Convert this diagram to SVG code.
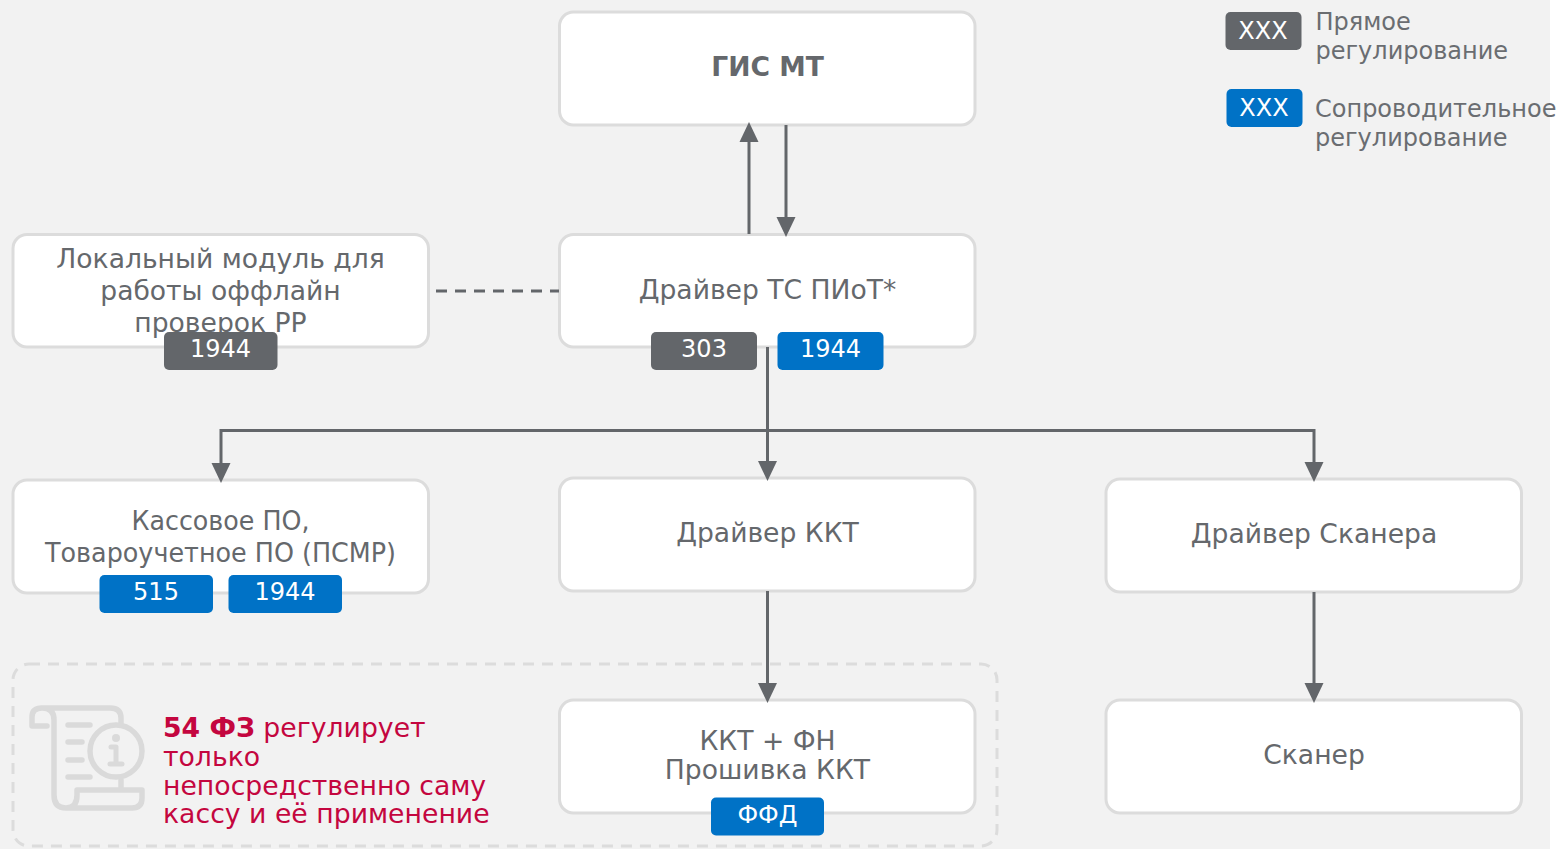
<svg xmlns="http://www.w3.org/2000/svg" width="1558" height="849" viewBox="0 0 1558 849">
<style>
text{font-family:"DejaVu Sans",sans-serif}
.n{fill:#fff;stroke:#dcdcdc;stroke-width:3}
.t{font-size:26.6px;fill:#65686c;text-anchor:middle}
.b{font-size:24px;fill:#fff;text-anchor:middle}
.g{fill:#63666a}
.u{fill:#0072c6}
.l{font-size:24px;fill:#6a6d71}
.c{fill:none;stroke:#63666a;stroke-width:3}
.r{font-size:26.7px;fill:#c4063f}
.i{fill:none;stroke:#dadada;stroke-width:5.5;stroke-linecap:round;stroke-linejoin:round}
</style>
<defs><marker id="a" markerUnits="userSpaceOnUse" markerWidth="21" markerHeight="21" refX="12" refY="10" orient="auto"><path d="M0 0.500L20 10L0 19.500Z" fill="#63666a"/></marker></defs>
<rect width="1550" height="849" fill="#f2f2f2"/>
<g id="note">
<rect x="13" y="664" width="984" height="182" rx="16" fill="none" stroke="#dcdcdc" stroke-width="3" stroke-dasharray="11 8"/>
<path class="i" d="M121 723V718Q121 708 110 708H42Q32 708 32 717V726H47M42 708Q54 708 54 720V795Q54 808 66 808Q77 808 77 795V790H142V798Q142 808 132 808H66M121 780V790"/>
<path class="i" d="M68 725H90M68 742H82M68 760H82M68 777H90"/>
<circle class="i" cx="116" cy="751" r="26"/>
<circle cx="116" cy="738" r="4" fill="#dadada"/>
<path class="i" style="stroke-width:5" d="M111 747H116V764M110 764H122"/>
<text class="r" x="163" y="737"><tspan font-weight="700">54 ФЗ</tspan> регулирует</text>
<text class="r" x="163" y="766">только</text>
<text class="r" x="163" y="795">непосредственно саму</text>
<text class="r" x="163" y="823">кассу и её применение</text>
</g>
<g id="gis"><rect class="n" x="559.500" y="12" width="415.500" height="113" rx="14"/><text class="t" x="767.500" y="76" font-weight="700">ГИС МТ</text></g>
<g id="driver-ts"><rect class="n" x="559.500" y="234.500" width="415.500" height="112.500" rx="14"/><text class="t" x="767.500" y="299">Драйвер ТС ПИоТ*</text>
<rect class="g" x="651" y="332" width="106" height="38" rx="5"/><text class="b" x="704" y="357">303</text>
<rect class="u" x="777.500" y="332" width="106" height="38" rx="5"/><text class="b" x="830.500" y="357">1944</text></g>
<g id="local"><rect class="n" x="13" y="234.500" width="415.500" height="112.500" rx="14"/>
<text class="t" x="220.500" y="268">Локальный модуль для</text><text class="t" x="220.500" y="300">работы оффлайн</text><text class="t" x="220.500" y="332">проверок РР</text>
<rect class="g" x="164" y="332" width="113.500" height="38" rx="5"/><text class="b" x="220.500" y="357">1944</text></g>
<g id="kassa"><rect class="n" x="13" y="480" width="415.500" height="113" rx="14"/>
<text class="t" x="220.500" y="530" textLength="178" lengthAdjust="spacingAndGlyphs">Кассовое ПО,</text><text class="t" x="220.500" y="562" textLength="351" lengthAdjust="spacingAndGlyphs">Товароучетное ПО (ПСМР)</text>
<rect class="u" x="99.500" y="575" width="113.500" height="38" rx="5"/><text class="b" x="156" y="600">515</text>
<rect class="u" x="228.500" y="575" width="113.500" height="38" rx="5"/><text class="b" x="285" y="600">1944</text></g>
<g id="driver-kkt"><rect class="n" x="559.500" y="478" width="415.500" height="113" rx="14"/><text class="t" x="767.500" y="542">Драйвер ККТ</text></g>
<g id="driver-scanner"><rect class="n" x="1106" y="479" width="415.500" height="113" rx="14"/><text class="t" x="1314" y="543">Драйвер Сканера</text></g>
<g id="kkt"><rect class="n" x="559.500" y="700" width="415.500" height="113" rx="14"/>
<text class="t" x="767.500" y="750">ККТ + ФН</text><text class="t" x="767.500" y="779">Прошивка ККТ</text>
<rect class="u" x="711" y="797.500" width="113" height="38" rx="5"/><text class="b" x="767.500" y="823">ФФД</text></g>
<g id="scanner"><rect class="n" x="1106" y="700" width="415.500" height="113" rx="14"/><text class="t" x="1314" y="764">Сканер</text></g>
<g id="legend">
<rect class="g" x="1225.500" y="12" width="76" height="38" rx="5"/><text class="b" x="1263" y="39">XXX</text>
<text class="l" x="1315.500" y="30">Прямое</text><text class="l" x="1315.500" y="59">регулирование</text>
<rect class="u" x="1226.500" y="89" width="76" height="38" rx="5"/><text class="b" x="1264" y="116">XXX</text>
<text class="l" x="1315" y="117">Сопроводительное</text><text class="l" x="1315" y="146">регулирование</text>
</g>
<g id="connectors">
<path class="c" d="M749 234V130" marker-end="url(#a)"/>
<path class="c" d="M786 125V229" marker-end="url(#a)"/>
<path class="c" d="M436 291H559" stroke-dasharray="11 8"/>
<path class="c" d="M767.500 347V473" marker-end="url(#a)"/>
<path class="c" d="M767.500 430.500H221V475" marker-end="url(#a)"/>
<path class="c" d="M767.500 430.500H1314V474" marker-end="url(#a)"/>
<path class="c" d="M767.500 591V695" marker-end="url(#a)"/>
<path class="c" d="M1314 592V695" marker-end="url(#a)"/>
</g>
</svg>
